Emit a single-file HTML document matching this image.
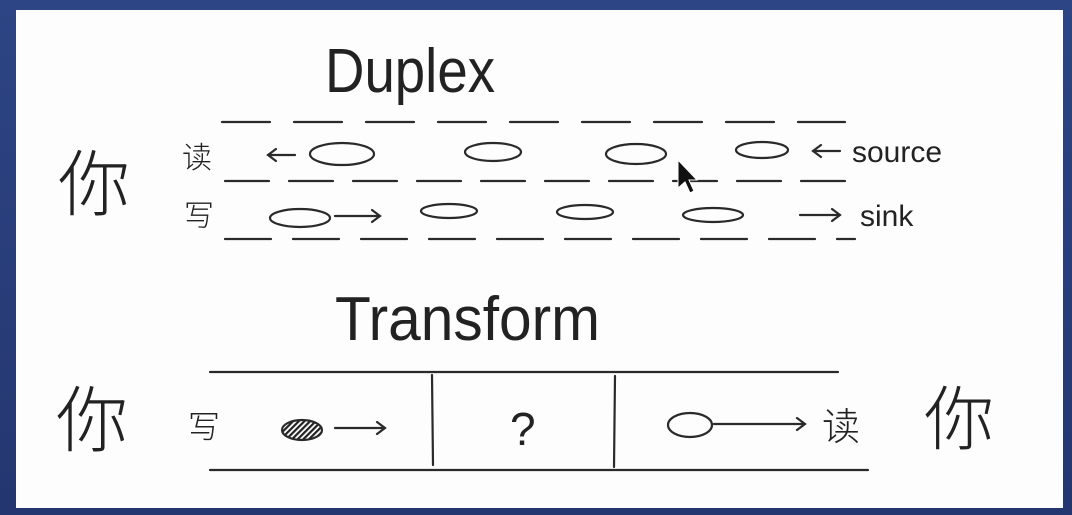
<!DOCTYPE html>
<html><head><meta charset="utf-8">
<style>
html,body{margin:0;padding:0;width:1072px;height:515px;overflow:hidden;background:#2b3f7c;}
svg{display:block}
text{font-family:"Liberation Sans","Noto Sans CJK SC",sans-serif;fill:#222;}
</style></head>
<body>
<svg width="1072" height="515" viewBox="0 0 1072 515">
<defs>
<linearGradient id="bg" x1="0" y1="0" x2="0" y2="1">
<stop offset="0" stop-color="#2d4584"/><stop offset="1" stop-color="#243670"/>
</linearGradient>
<pattern id="hatch" width="4" height="4" patternUnits="userSpaceOnUse" patternTransform="rotate(45)">
<rect width="4" height="4" fill="#fff"/><rect width="2.2" height="4" fill="#222"/>
</pattern>
</defs>
<rect x="0" y="0" width="1072" height="515" fill="url(#bg)"/>
<rect x="16" y="10" width="1047" height="498" fill="#fdfdfd"/>

<g stroke="#2a2a2a" fill="none" stroke-width="2.2" stroke-linecap="round">
<text x="325" y="92" font-size="62" textLength="170" lengthAdjust="spacingAndGlyphs" stroke="none">Duplex</text>

<line x1="222" y1="122" x2="845" y2="122" stroke-dasharray="48,24"/>
<line x1="225" y1="181" x2="845" y2="181" stroke-dasharray="44,20"/>
<line x1="225" y1="239" x2="855" y2="239" stroke-dasharray="46,22"/>

<text x="58" y="210" font-size="72" stroke="none" style="font-family:'Noto Sans CJK SC',sans-serif;font-weight:300">你</text>
<text x="182" y="168" font-size="30" stroke="none" style="font-family:'Noto Sans CJK SC',sans-serif;font-weight:300">读</text>
<text x="184" y="226" font-size="30" stroke="none" style="font-family:'Noto Sans CJK SC',sans-serif;font-weight:300">写</text>

<g>
<path d="M295 155 L268 155 M276 149 L268 155 L276 161"/>
<ellipse cx="342" cy="154" rx="32" ry="11"/>
<ellipse cx="493" cy="152" rx="28" ry="9"/>
<ellipse cx="636" cy="154" rx="30" ry="10"/>
<ellipse cx="762" cy="150" rx="26" ry="8"/>
<path d="M840 151 L813 151 M821 145 L813 151 L821 157"/>
<text x="852" y="162" font-size="30" stroke="none">source</text>
</g>
<g>
<ellipse cx="300" cy="218" rx="30" ry="9"/>
<path d="M335 216 L380 216 M372 210 L380 216 L372 222"/>
<ellipse cx="449" cy="211" rx="28" ry="7"/>
<ellipse cx="585" cy="212" rx="28" ry="7"/>
<ellipse cx="713" cy="215" rx="30" ry="7"/>
<path d="M800 215 L840 215 M832 209 L840 215 L832 221"/>
<text x="860" y="226" font-size="30" stroke="none">sink</text>
</g>

<text x="335" y="340" font-size="62" textLength="265" lengthAdjust="spacingAndGlyphs" stroke="none">Transform</text>

<g>
<line x1="210" y1="372" x2="838" y2="372"/>
<line x1="210" y1="470" x2="868" y2="470"/>
<line x1="432" y1="375" x2="433" y2="465"/>
<line x1="615" y1="376" x2="614" y2="467"/>
</g>
<text x="56" y="446" font-size="72" stroke="none" style="font-family:'Noto Sans CJK SC',sans-serif;font-weight:300">你</text>
<text x="188" y="438" font-size="32" stroke="none" style="font-family:'Noto Sans CJK SC',sans-serif;font-weight:300">写</text>
<ellipse cx="302" cy="430" rx="20" ry="10" fill="url(#hatch)"/>
<path d="M335 428 L385 428 M377 422 L385 428 L377 434"/>
<text x="510" y="445" font-size="46" stroke="none">?</text>
<ellipse cx="690" cy="425" rx="22" ry="12"/>
<path d="M714 424 L805 424 M797 418 L805 424 L797 430"/>
<text x="822" y="440" font-size="38" stroke="none" style="font-family:'Noto Sans CJK SC',sans-serif;font-weight:300">读</text>
<text x="924" y="444" font-size="70" stroke="none" style="font-family:'Noto Sans CJK SC',sans-serif;font-weight:300">你</text>
</g>

<path d="M678 160 L678 188 L685 182 L690 193 L694 191 L689 180 L697 180 Z" fill="#111" stroke="#fff" stroke-width="1"/>
</svg>
</body></html>
